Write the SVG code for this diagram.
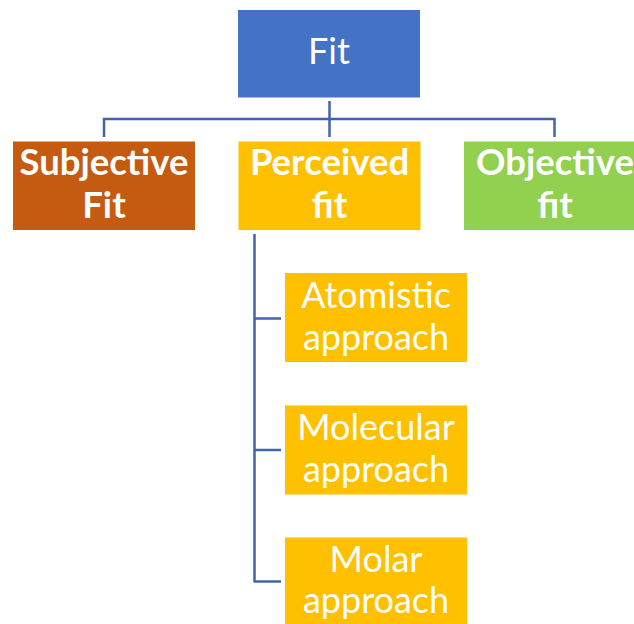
<svg xmlns="http://www.w3.org/2000/svg" width="634" height="624" viewBox="0 0 634 624">
  <style>
    .lbl { font-family: Lato, "Liberation Sans", sans-serif; fill: #ffffff; text-anchor: middle; font-size: 36px; }
    .b { font-weight: bold; font-size: 36.5px; }
    .conn { fill: none; stroke: #3F64AD; stroke-width: 2.5; }
  </style>
  <rect width="634" height="624" fill="#ffffff"/>

  <g id="connectors">
    <path class="conn" d="M329.5 101 V119 M104 137 V119 H554.5 V137 M329.5 119 V137"/>
    <path class="conn" d="M254.5 234 V582 M253.5 318.5 H281 M253.5 450 H281 M253.5 581.5 H281"/>
  </g>

  <g id="fit">
    <rect x="238" y="10" width="182" height="87.5" fill="#4472C4"/>
    <text class="lbl" x="329" y="64" font-size="37">Fit</text>
  </g>

  <g id="subjective">
    <rect x="13" y="141.5" width="182" height="88.5" fill="#C55A11"/>
    <text class="lbl b" x="104" y="175">Subjective</text>
    <text class="lbl b" x="104" y="218">Fit</text>
  </g>

  <g id="perceived">
    <rect x="238.5" y="141.5" width="182" height="88.5" fill="#FFC000"/>
    <text class="lbl b" x="329.5" y="175">Perceived</text>
    <text class="lbl b" x="329.5" y="218">fit</text>
  </g>

  <g id="objective">
    <rect x="464" y="141.5" width="182" height="88.5" fill="#92D050"/>
    <text class="lbl b" x="555" y="175">Objective</text>
    <text class="lbl b" x="555" y="218">fit</text>
  </g>

  <g id="atomistic">
    <rect x="285" y="273" width="182" height="89" fill="#FFC000"/>
    <text class="lbl" x="376" y="307.5">Atomistic</text>
    <text class="lbl" x="376" y="349.5">approach</text>
  </g>

  <g id="molecular">
    <rect x="285" y="405.5" width="182" height="89" fill="#FFC000"/>
    <text class="lbl" x="376" y="440">Molecular</text>
    <text class="lbl" x="376" y="481.5">approach</text>
  </g>

  <g id="molar">
    <rect x="285" y="537.5" width="182" height="89" fill="#FFC000"/>
    <text class="lbl" x="376" y="571.5">Molar</text>
    <text class="lbl" x="376" y="613">approach</text>
  </g>
</svg>
